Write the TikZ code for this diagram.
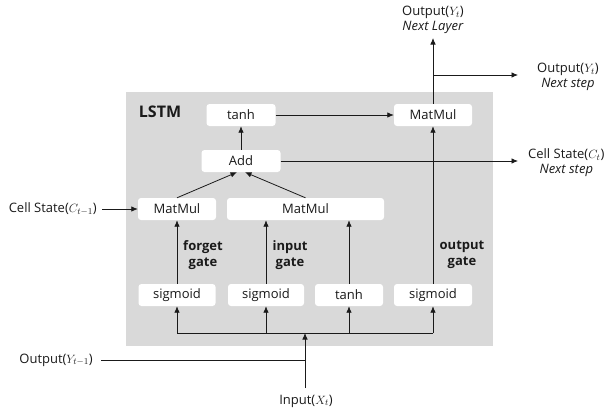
\documentclass[tikz,border=0pt]{standalone}
\usepackage{fontspec}
\setmainfont{Open Sans}
\usetikzlibrary{arrows.meta}
\definecolor{cellbg}{HTML}{D9D9D9}
\definecolor{ink}{HTML}{1A1A1A}
\begin{document}
\begin{tikzpicture}[x=1pt,y=-1pt,
  box/.style={fill=white, rounded corners=3pt, minimum height=22pt, inner sep=0pt,
    text=ink, font=\fontsize{13}{15}\selectfont},
  arr/.style={-{Latex[length=6.5pt,width=5.5pt]}, line width=0.8pt, draw=ink},
  ln/.style={line width=0.8pt, draw=ink},
  lbl/.style={text=ink, align=center, inner sep=0pt, font=\fontsize{13}{15}\selectfont},
  gate/.style={text=ink, align=center, inner sep=0pt, font=\bfseries\fontsize{13}{15.5}\selectfont}]
\useasboundingbox (0,0) rectangle (610,413);

% cell background
\node[fill=cellbg, minimum width=367pt, minimum height=254pt, inner sep=0pt,
      anchor=north west] (cell) at (126,92) {};
\node[text=ink, font=\bfseries\fontsize{16}{18}\selectfont] (title) at (160,112) {LSTM};

% operation boxes
\node[box, minimum width=69pt] (tanhT) at (241,115) {tanh};
\node[box, minimum width=79pt] (add)   at (241,161) {Add};
\node[box, minimum width=78pt] (mmF)   at (177,209) {MatMul};
\node[box, minimum width=157pt] (mmI)  at (305.5,209) {MatMul};
\node[box, minimum width=78pt] (mmO)   at (433,115) {MatMul};
\node[box, minimum width=77pt] (sigF)  at (177,295) {sigmoid};
\node[box, minimum width=76pt] (sigI)  at (266,295) {sigmoid};
\node[box, minimum width=68pt] (tanhC) at (349,295) {tanh};
\node[box, minimum width=78pt] (sigO)  at (433,295) {sigmoid};

% gate labels
\node[gate] (lf) at (203,255) {forget\\gate};
\node[gate] (li) at (290,255) {input\\gate};
\node[gate] (lo) at (462,255) {output\\gate};

% outer labels
\node[lbl, anchor=east] (cin) at (97,209) {Cell State($C_{t-1}$)};
\node[lbl, anchor=east] (yin) at (93,360) {Output($Y_{t-1}$)};
\node[lbl] (xin) at (306,401) {Input($X_t$)};
\node[lbl] (yup) at (433,20) {Output($Y_t$)\\\textit{Next Layer}};
\node[lbl, anchor=west] (ynext) at (537,77) {Output($Y_t$)\\\textit{Next step}};
\node[lbl, anchor=west] (cnext) at (528,163) {Cell State($C_t$)\\\textit{Next step}};

% junctions
\coordinate (bus) at (305,333);
\coordinate (join) at (305,360);
\coordinate (xstart) at (305,388);
\coordinate (ystart) at (101,360);
\coordinate (ytop) at (433,38);
\coordinate (ybr) at (433,75);
\coordinate (yend) at (518,75);
\coordinate (cend) at (518,161);
\coordinate (cstart) at (102,209);

% input distribution
\draw[ln] (ystart) -- (join);
\draw[arr] (xstart) -- (bus);
\draw[ln] (sigF.south |- bus) -- (sigO.south |- bus);
\draw[arr] (sigF.south |- bus) -- (sigF.south);
\draw[arr] (sigI.south |- bus) -- (sigI.south);
\draw[arr] (tanhC.south |- bus) -- (tanhC.south);
\draw[arr] (sigO.south |- bus) -- (sigO.south);

% gates to products
\draw[arr] (sigF.north) -- (mmF.south);
\draw[arr] (sigI.north) -- (sigI.north |- mmI.south);
\draw[arr] (tanhC.north) -- (tanhC.north |- mmI.south);
\draw[arr] (sigO.north) -- (mmO.south);

% cell state path
\draw[arr] (cstart) -- (mmF.west);
\draw[arr] (mmF.north) -- ([xshift=-4pt]add.south);
\draw[arr] (mmI.north) -- ([xshift=4pt]add.south);
\draw[arr] (add.north) -- (tanhT.south);
\draw[arr] (add.east) -- (cend);
\draw[arr] (tanhT.east) -- (mmO.west);

% hidden output
\draw[arr] (mmO.north) -- (ytop);
\draw[arr] (ybr) -- (yend);
\end{tikzpicture}
\end{document}
